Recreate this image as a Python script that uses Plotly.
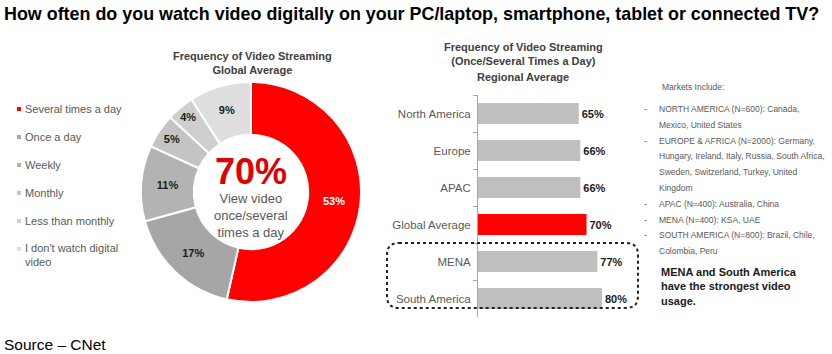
import plotly.graph_objects as go

W, H = 832, 354

# ---------------- data ----------------
freq_labels = ["Several times a day", "Once a day", "Weekly", "Monthly",
               "Less than monthly", "I don't watch digital<br>video"]
freq_values = [53, 17, 11, 5, 4, 9]
freq_colors = ["#ff0000", "#a6a6a6", "#b3b3b3", "#c4c4c4", "#cfcfcf", "#dedede"]
freq_text_colors = ["white", "#1a1a1a", "#1a1a1a", "#1a1a1a", "#1a1a1a", "#1a1a1a"]

regions = ["North America", "Europe", "APAC", "Global Average", "MENA", "South America"]
region_values = [65, 66, 66, 70, 77, 80]
region_colors = ["#bfbfbf", "#bfbfbf", "#bfbfbf", "#ff0000", "#bfbfbf", "#bfbfbf"]

markets_lines = [
    ("", "Markets Include:"),
    ("-", "NORTH AMERICA (N=600): Canada,"),
    ("", "Mexico, United States"),
    ("-", "EUROPE & AFRICA (N=2000): Germany,"),
    ("", "Hungary, Ireland, Italy, Russia, South Africa,"),
    ("", "Sweden, Switzerland, Turkey, United"),
    ("", "Kingdom"),
    ("-", "APAC (N=400): Australia, China"),
    ("-", "MENA (N=400): KSA, UAE"),
    ("-", "SOUTH AMERICA (N=800): Brazil, Chile,"),
    ("", "Colombia, Peru"),
]


def px(x):
    return x / W


def py(y):
    return 1 - y / H


FONT = "Liberation Sans, Arial, sans-serif"

fig = go.Figure()

# ---------------- donut ----------------
cx, cy, r = 251, 192, 110
fig.add_trace(go.Pie(
    values=freq_values,
    labels=freq_labels,
    sort=False,
    direction="clockwise",
    rotation=0,
    hole=0.52,
    marker=dict(colors=freq_colors, line=dict(color="white", width=2)),
    texttemplate="%{value}%",
    textposition="inside",
    insidetextorientation="horizontal",
    textfont=dict(family=FONT, size=11, color=freq_text_colors, weight="bold"),
    domain=dict(x=[px(cx - r), px(cx + r)], y=[py(cy + r), py(cy - r)]),
    showlegend=False,
    hoverinfo="label+value",
))

# ---------------- bars ----------------
fig.add_trace(go.Bar(
    x=region_values,
    y=regions,
    orientation="h",
    marker=dict(color=region_colors, line=dict(width=0)),
    text=[f"{v}%" for v in region_values],
    textposition="outside",
    textfont=dict(family=FONT, size=11, color="#1a1a1a", weight="bold"),
    cliponaxis=False,
    showlegend=False,
    width=0.57,
))

fig.update_layout(
    width=W, height=H,
    margin=dict(l=0, r=0, t=0, b=0),
    paper_bgcolor="white", plot_bgcolor="white",
    font=dict(family=FONT, color="#595959"),
    xaxis=dict(domain=[px(478), px(633)], range=[0, 100], visible=False, fixedrange=True),
    yaxis=dict(domain=[py(317), py(95)], categoryorder="array", categoryarray=regions,
               autorange="reversed", showline=True, linecolor="#a6a6a6", linewidth=1,
               ticks="outside", tickson="boundaries", ticklen=4, tickcolor="#a6a6a6",
               tickfont=dict(family=FONT, size=11.5, color="#595959"),
               ticklabelstandoff=4, showgrid=False, zeroline=False),
)

ann = []
# title
ann.append(dict(x=px(2), y=py(14), text="<b>How often do you watch video digitally on your PC/laptop, smartphone, tablet or connected TV?</b>",
                font=dict(size=17.9, color="#000000", family=FONT), xanchor="left", yanchor="middle"))
# donut title
ann.append(dict(x=px(253), y=py(63), text="<b>Frequency of Video Streaming<br>Global Average</b>",
                font=dict(size=11, color="#404040", family=FONT), xanchor="center", yanchor="middle"))
# center text
ann.append(dict(x=px(cx), y=py(171), text="<b>70%</b>",
                font=dict(size=36, color="#e00000", family=FONT), xanchor="center", yanchor="middle"))
ann.append(dict(x=px(cx), y=py(215), text="View video<br>once/several<br>times a day",
                font=dict(size=13, color="#595959", family=FONT), xanchor="center", yanchor="middle"))
# legend
leg_y = [109, 137, 165, 193, 221, 255]
shapes = []
for lab, col, yy in zip(freq_labels, freq_colors, leg_y):
    ann.append(dict(x=px(23), y=py(yy), text=lab, align="left",
                    font=dict(size=11, color="#595959", family=FONT), xanchor="left", yanchor="middle"))
    my = yy if "<br>" not in lab else yy - 6
    shapes.append(dict(type="rect", xref="paper", yref="paper",
                       x0=px(17), x1=px(21), y0=py(my - 2), y1=py(my + 2),
                       fillcolor=col, line=dict(width=0)))
# bar title
ann.append(dict(x=px(523), y=py(54), text="<b>Frequency of Video Streaming<br>(Once/Several Times a Day)</b>",
                font=dict(size=11, color="#404040", family=FONT), xanchor="center", yanchor="middle"))
ann.append(dict(x=px(523), y=py(77), text="<b>Regional Average</b>",
                font=dict(size=11, color="#404040", family=FONT), xanchor="center", yanchor="middle"))
# markets text
y0 = 87
for i, (bullet, txt) in enumerate(markets_lines):
    yy = y0 + (0 if i == 0 else 22 + (i - 1) * 15.8)
    xx = 660 if i == 0 else 657
    if bullet:
        ann.append(dict(x=px(642), y=py(yy), text=bullet,
                        font=dict(size=8.5, color="#595959", family=FONT), xanchor="left", yanchor="middle"))
    ann.append(dict(x=px(xx), y=py(yy), text=txt,
                    font=dict(size=8.5, color="#595959", family=FONT), xanchor="left", yanchor="middle"))
ann.append(dict(x=px(659), y=py(286), text="<b>MENA and South America<br>have the strongest video<br>usage.</b>",
                align="left", font=dict(size=11, color="#1a1a1a", family=FONT), xanchor="left", yanchor="middle"))
# source
ann.append(dict(x=px(2), y=py(344), text="Source – CNet",
                font=dict(size=15.5, color="#000000", family=FONT), xanchor="left", yanchor="middle"))

for a in ann:
    a.update(xref="paper", yref="paper", showarrow=False)

# dotted rounded rectangle
x0r, x1r, y0r, y1r, rr = 387, 638, 243, 308, 12
pts = [
    f"M {px(x0r + rr)},{py(y0r)}",
    f"L {px(x1r - rr)},{py(y0r)}",
    f"Q {px(x1r)},{py(y0r)} {px(x1r)},{py(y0r + rr)}",
    f"L {px(x1r)},{py(y1r - rr)}",
    f"Q {px(x1r)},{py(y1r)} {px(x1r - rr)},{py(y1r)}",
    f"L {px(x0r + rr)},{py(y1r)}",
    f"Q {px(x0r)},{py(y1r)} {px(x0r)},{py(y1r - rr)}",
    f"L {px(x0r)},{py(y0r + rr)}",
    f"Q {px(x0r)},{py(y0r)} {px(x0r + rr)},{py(y0r)}",
    "Z",
]
shapes.append(dict(type="path", xref="paper", yref="paper", path=" ".join(pts),
                   line=dict(color="#222222", width=2, dash="dot"), fillcolor="rgba(0,0,0,0)"))

fig.update_layout(annotations=ann, shapes=shapes)

fig.write_html("out.html")
